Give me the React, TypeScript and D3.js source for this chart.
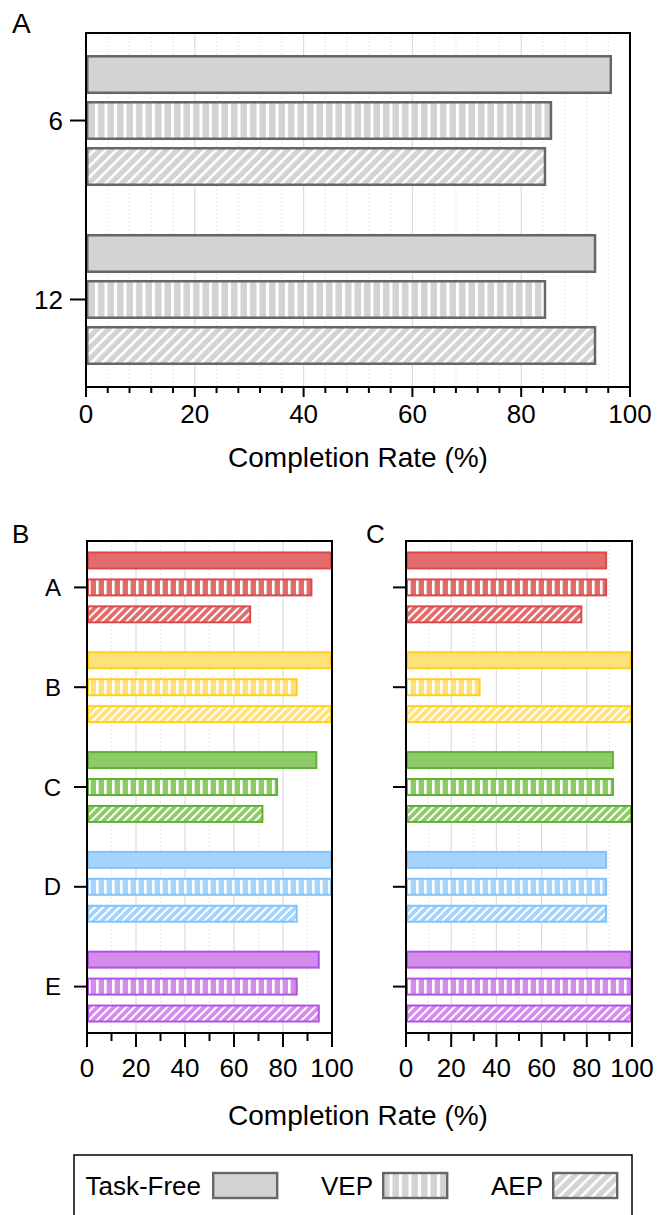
import React from 'react';
import * as d3 from 'd3';

// ---------- data ----------
const seriesNames = ['Task-Free', 'VEP', 'AEP'];

const groupsA = ['6', '12'];
const taskFreeA = [96.7, 93.8];
const vepA = [85.7, 84.6];
const aepA = [84.6, 93.8];

const participants = ['A', 'B', 'C', 'D', 'E'];
const taskFreeB = [100, 100, 94, 100, 95];
const vepB = [92, 86, 78, 100, 86];
const aepB = [67, 100, 72, 86, 95];

const taskFreeC = [89, 100, 92, 89, 100];
const vepC = [89, 33, 92, 89, 100];
const aepC = [78, 100, 100, 89, 100];

const xTickValues = [0, 20, 40, 60, 80, 100];

const grayFill = '#d3d3d3';
const grayStroke = '#666666';
const participantFill = ['#e26b6b', '#ffe17c', '#8fca68', '#a5d3fb', '#d38bec'];
const participantStroke = ['#da4a4a', '#ffd01a', '#5eb234', '#84c2f8', '#b153e2'];

const FONT = '"Liberation Sans", Arial, Helvetica, sans-serif';

type PanelProps = {
  id: string;
  x0: number; x1: number; y0: number; y1: number;
  groups: string[];
  values: number[][]; // [series][group]
  fill: (g: number) => string;
  stroke: (g: number) => string;
  strokeWidth: number;
  showYLabels: boolean;
  yTickLen: number;
  yLabelGap: number;
  yLabelSize: number;
  padInner: number;
  padOuter: number;
  subPad: number;
  minorStep: number;
  majorTickLen: number;
  minorTickLen: number;
  xLabelSize: number;
  xLabelBaseline: number;
  vPeriod: number;
  vWhite: number;
  dPeriod: number;
  dWhite: number;
};

function Panel(p: PanelProps) {
  const x = d3.scaleLinear().domain([0, 100]).range([p.x0, p.x1]);
  const y = d3.scaleBand<string>().domain(p.groups).range([p.y0, p.y1])
    .paddingInner(p.padInner).paddingOuter(p.padOuter);
  const sub = d3.scaleBand<string>().domain(seriesNames).range([0, y.bandwidth()])
    .paddingInner(p.subPad).paddingOuter(0);
  const minor = d3.range(0, 100 + 1e-9, p.minorStep);
  const majorGrid = xTickValues.filter(v => v > 0 && v < 100);
  const minorGrid = minor.filter(v => v % 20 !== 0);
  const colorCount = p.groups.length;

  return (
    <g>
      <defs>
        {p.groups.map((_, g) => (
          <React.Fragment key={g}>
            <pattern id={`${p.id}-v-${g}`} patternUnits="userSpaceOnUse" width={p.vPeriod} height={10}>
              <rect width={p.vPeriod} height={10} fill={p.fill(g)} />
              <rect x={0} width={p.vWhite} height={10} fill="#ffffff" />
            </pattern>
            <pattern id={`${p.id}-d-${g}`} patternUnits="userSpaceOnUse" width={p.dPeriod} height={10}
              patternTransform="rotate(45)">
              <rect width={p.dPeriod} height={10} fill={p.fill(g)} />
              <rect x={0} width={p.dWhite} height={10} fill="#ffffff" />
            </pattern>
          </React.Fragment>
        ))}
      </defs>
      {minorGrid.map(v => (
        <line key={'mg' + v} x1={x(v)} x2={x(v)} y1={p.y0} y2={p.y1} stroke="#e6e6e6" strokeWidth={1} strokeDasharray="2,2" />
      ))}
      {majorGrid.map(v => (
        <line key={'Mg' + v} x1={x(v)} x2={x(v)} y1={p.y0} y2={p.y1} stroke="#dcdcdc" strokeWidth={1.2} />
      ))}
      {p.groups.map((grp, g) => (
        <g key={grp}>
          {seriesNames.map((s, si) => {
            const v = p.values[si][g];
            const yy = (y(grp) as number) + (sub(s) as number);
            const fillRef = si === 0 ? p.fill(g) : `url(#${p.id}-${si === 1 ? 'v' : 'd'}-${g})`;
            const sw = p.strokeWidth;
            return (
              <rect key={s} x={x(0) + sw / 2} y={yy + sw / 2} width={Math.max(0, x(v) - x(0) - sw)}
                height={sub.bandwidth() - sw} fill={fillRef} stroke={p.stroke(g)} strokeWidth={sw} />
            );
          })}
          <line x1={p.x0 - p.yTickLen} x2={p.x0} y1={(y(grp) as number) + y.bandwidth() / 2}
            y2={(y(grp) as number) + y.bandwidth() / 2} stroke="#000" strokeWidth={2} />
          {p.showYLabels && (
            <text x={p.x0 - p.yTickLen - p.yLabelGap} y={(y(grp) as number) + y.bandwidth() / 2}
              dy="0.36em" textAnchor="end" fontSize={p.yLabelSize} fontFamily={FONT} fill="#000">{grp}</text>
          )}
        </g>
      ))}
      <rect x={p.x0} y={p.y0} width={p.x1 - p.x0} height={p.y1 - p.y0} fill="none" stroke="#000" strokeWidth={2} />
      {minor.map(v => (
        <line key={'t' + v} x1={x(v)} x2={x(v)} y1={p.y1}
          y2={p.y1 + (v % 20 === 0 ? p.majorTickLen : p.minorTickLen)} stroke="#000" strokeWidth={2} />
      ))}
      {xTickValues.map(v => (
        <text key={'l' + v} x={x(v)} y={p.xLabelBaseline} textAnchor="middle" fontSize={p.xLabelSize}
          fontFamily={FONT} fill="#000">{v}</text>
      ))}
      {colorCount < 0 && null}
    </g>
  );
}

export default function App() {
  const valuesA = [taskFreeA, vepA, aepA];
  const valuesB = [taskFreeB, vepB, aepB];
  const valuesC = [taskFreeC, vepC, aepC];

  const common = {
    strokeWidth: 2, yTickLen: 13, yLabelGap: 13, yLabelSize: 24,
    padInner: 0.28, padOuter: 0.105, subPad: 0.333, minorStep: 10,
    majorTickLen: 14, minorTickLen: 8, xLabelSize: 26, xLabelBaseline: 1077,
    vPeriod: 8, vWhite: 2.6, dPeriod: 5.8, dWhite: 2,
    groups: participants,
    fill: (g: number) => participantFill[g],
    stroke: (g: number) => participantStroke[g],
  };

  const legendItems = [
    { name: seriesNames[0], textEnd: 201, swX: 212, kind: 0 },
    { name: seriesNames[1], textEnd: 373, swX: 382, kind: 1 },
    { name: seriesNames[2], textEnd: 543, swX: 552, kind: 2 },
  ];

  return (
    <svg width={668} height={1215} style={{ position: 'absolute', left: 0, top: 0, background: '#fff' }}>
      <rect width={668} height={1215} fill="#fff" />
      <defs>
        <pattern id="lg-v" patternUnits="userSpaceOnUse" width={9.5} height={10}>
          <rect width={9.5} height={10} fill={grayFill} />
          <rect width={3} height={10} fill="#fff" />
        </pattern>
        <pattern id="lg-d" patternUnits="userSpaceOnUse" width={7.8} height={10} patternTransform="rotate(45)">
          <rect width={7.8} height={10} fill={grayFill} />
          <rect width={2.6} height={10} fill="#fff" />
        </pattern>
      </defs>

      {/* Panel A */}
      <text x={12} y={33} fontSize={28} fontFamily={FONT} fill="#000">A</text>
      <Panel id="pa" x0={86} x1={630} y0={33} y1={387} groups={groupsA} values={valuesA}
        fill={() => grayFill} stroke={() => grayStroke} strokeWidth={2.5}
        showYLabels={true} yTickLen={16} yLabelGap={7} yLabelSize={26}
        padInner={0.268} padOuter={0.123} subPad={0.152} minorStep={4}
        majorTickLen={10} minorTickLen={6} xLabelSize={26} xLabelBaseline={423}
        vPeriod={9.5} vWhite={3} dPeriod={7.8} dWhite={2.6} />
      <text x={358} y={467} textAnchor="middle" fontSize={28} fontFamily={FONT} fill="#000">Completion Rate (%)</text>

      {/* Panel B */}
      <text x={12} y={543} fontSize={26} fontFamily={FONT} fill="#000">B</text>
      <Panel id="pb" x0={87} x1={332} y0={541} y1={1033} values={valuesB} showYLabels={true} {...common} />

      {/* Panel C */}
      <text x={366} y={543} fontSize={26} fontFamily={FONT} fill="#000">C</text>
      <Panel id="pc" x0={406} x1={632} y0={541} y1={1033} values={valuesC} showYLabels={false} {...common} />

      <text x={358} y={1125} textAnchor="middle" fontSize={28} fontFamily={FONT} fill="#000">Completion Rate (%)</text>

      {/* Legend */}
      <rect x={74} y={1155} width={558} height={90} fill="none" stroke="#000" strokeWidth={1.5} />
      {legendItems.map(it => (
        <g key={it.name}>
          <text x={it.textEnd} y={1195} textAnchor="end" fontSize={26} fontFamily={FONT} fill="#000">{it.name}</text>
          <rect x={it.swX + 1.2} y={1173} width={64} height={25}
            fill={it.kind === 0 ? grayFill : it.kind === 1 ? 'url(#lg-v)' : 'url(#lg-d)'}
            stroke={grayStroke} strokeWidth={2.4} />
        </g>
      ))}
    </svg>
  );
}
